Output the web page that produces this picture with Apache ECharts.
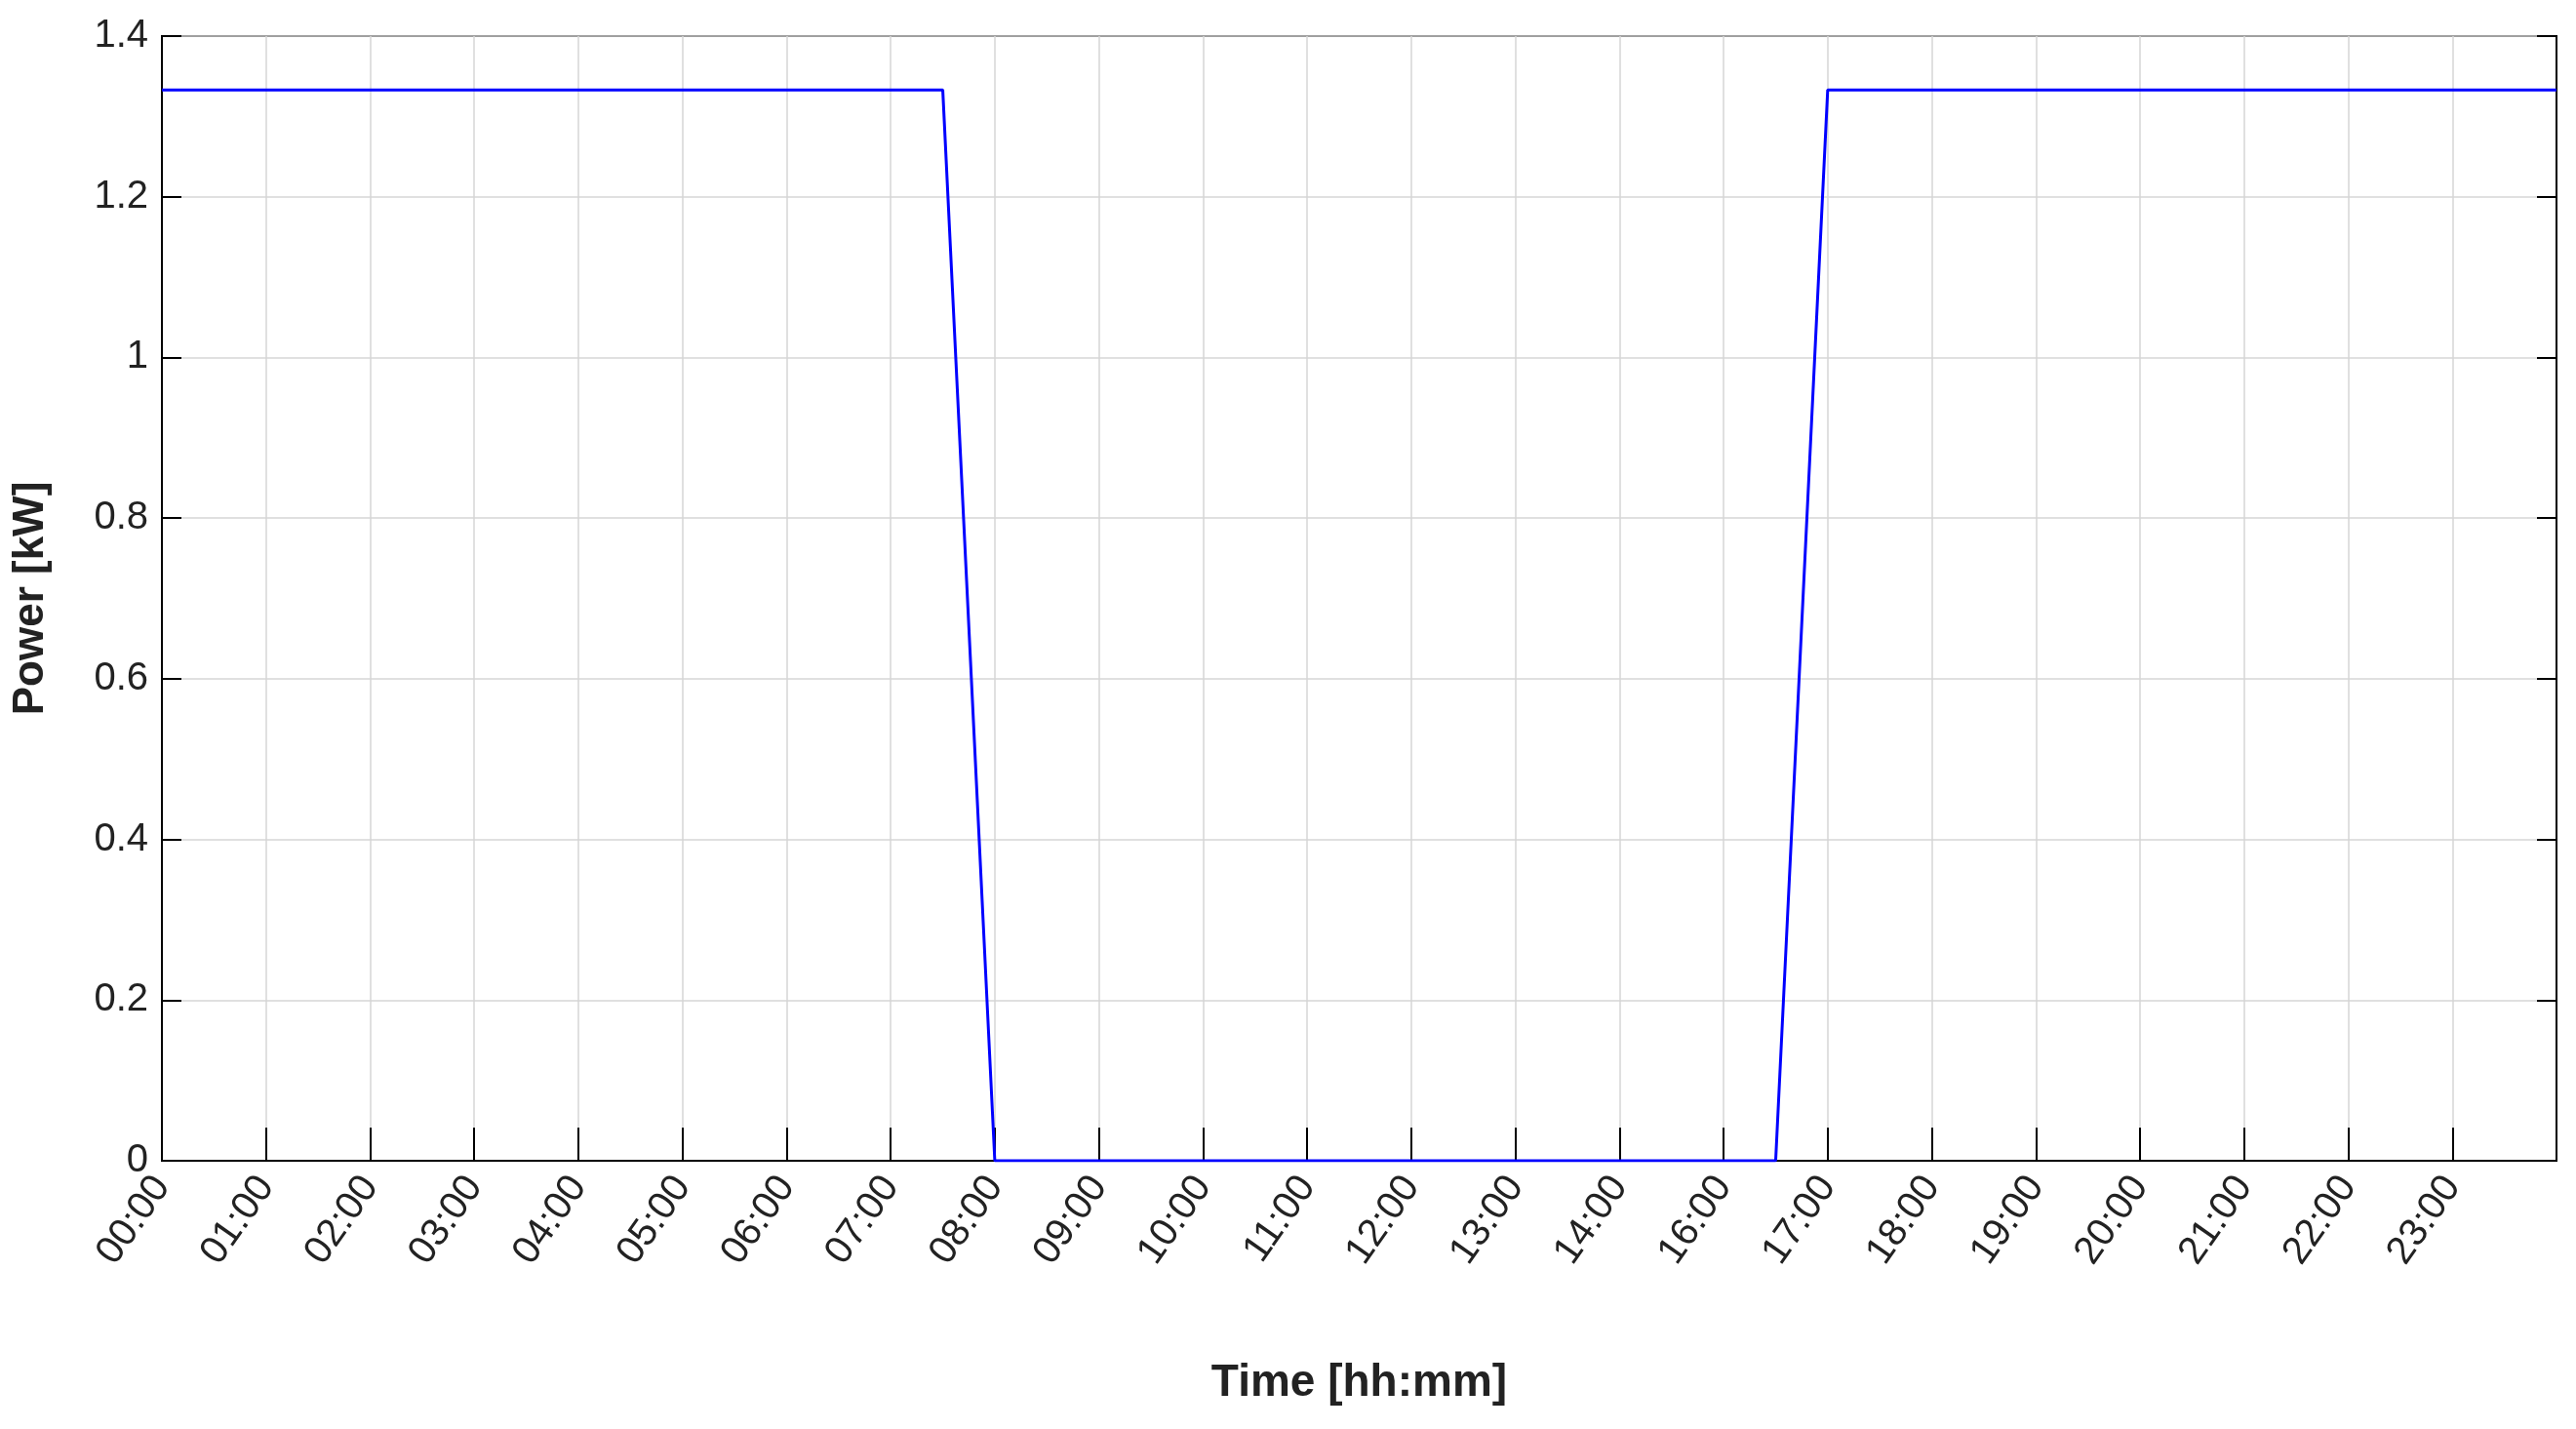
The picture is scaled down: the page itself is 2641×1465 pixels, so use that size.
<!DOCTYPE html>
<html>
<head>
<meta charset="utf-8">
<script src="https://cdn.jsdelivr.net/npm/echarts@6/dist/echarts.min.js"></script>
<style>html,body{margin:0;padding:0;background:#fff}#main{width:2641px;height:1465px}</style>
</head>
<body>
<div id="main"></div>
<script>
var tickLabels = ['00:00','01:00','02:00','03:00','04:00','05:00','06:00','07:00','08:00','09:00','10:00','11:00',
  '12:00','13:00','14:00','16:00','17:00','18:00','19:00','20:00','21:00','22:00','23:00',''];
var timeIdx = [0, 7.5, 8, 15.5, 16, 23];
var power = [1.333, 1.333, 0, 0, 1.333, 1.333];

var chart = echarts.init(document.getElementById('main'));
var font = '"Liberation Sans Narrow", "Liberation Sans", Arial, sans-serif';
option = {
  animation: false,
  grid: { left: 166, right: 20, top: 37, bottom: 275, show: true, borderColor: '#000', borderWidth: 2 },
  xAxis: {
    type: 'value', min: 0, max: 23, interval: 1,
    name: 'Time [hh:mm]', nameLocation: 'middle', nameGap: 205,
    nameTextStyle: { fontFamily: font, fontSize: 46, color: '#222', fontWeight: 'bold' },
    axisLine: { lineStyle: { color: '#000', width: 2 } },
    axisTick: { inside: true, length: 34, lineStyle: { color: '#000', width: 2 } },
    axisLabel: { rotate: 55, margin: 20, fontFamily: font, fontSize: 40, color: '#222',
      formatter: function (v) { return tickLabels[Math.round(v)] || ''; } },
    splitLine: { lineStyle: { color: '#d6d6d6', width: 1.5 } }
  },
  yAxis: [{
    type: 'value', min: 0, max: 1.4, interval: 0.2,
    name: 'Power [kW]', nameLocation: 'middle', nameGap: 112,
    nameTextStyle: { fontFamily: 'Liberation Sans, Arial, sans-serif', fontSize: 44, color: '#222', fontWeight: 'bold' },
    axisLine: { lineStyle: { color: '#000', width: 2 } },
    axisTick: { inside: true, length: 20, lineStyle: { color: '#000', width: 2 } },
    axisLabel: { margin: 14, fontFamily: font, fontSize: 40, color: '#222',
      formatter: function (v) { return +v.toFixed(1) + ''; } },
    splitLine: { lineStyle: { color: '#d6d6d6', width: 1.5 } }
  }, {
    type: 'value', min: 0, max: 1.4, interval: 0.2, position: 'right',
    axisLine: { show: true, lineStyle: { color: '#000', width: 2 } },
    axisTick: { show: true, inside: true, length: 20, lineStyle: { color: '#000', width: 2 } },
    axisLabel: { show: false }, splitLine: { show: false }
  }],
  series: [{
    type: 'line', showSymbol: false,
    lineStyle: { color: '#0000ff', width: 3 },
    data: timeIdx.map(function (t, i) { return [t, power[i]]; })
  }]
};
chart.setOption(option);
</script>
</body>
</html>
